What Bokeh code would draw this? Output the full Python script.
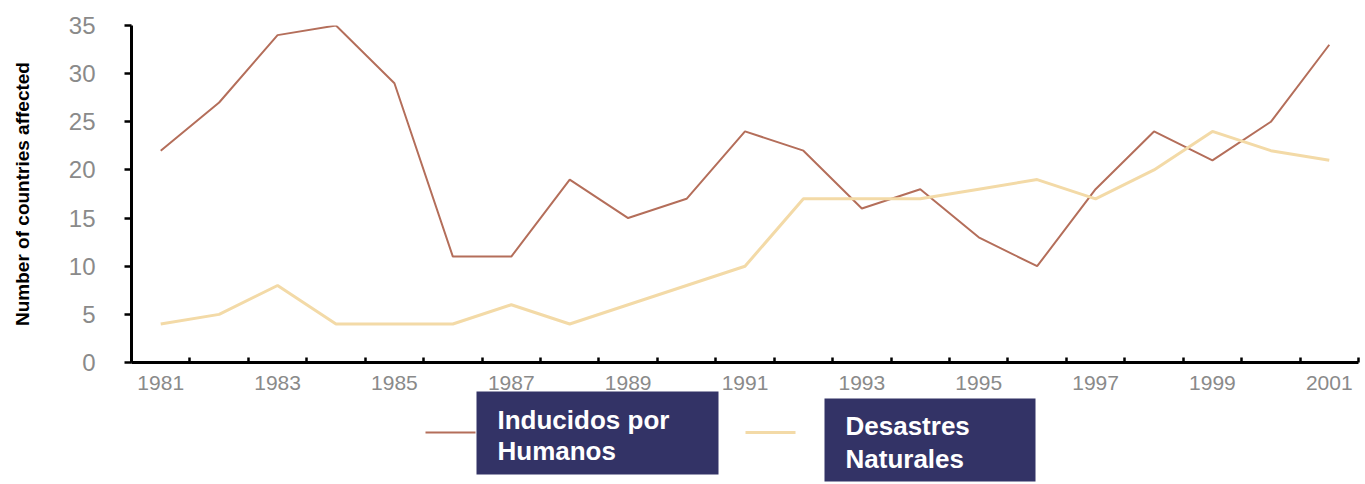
from bokeh.plotting import figure
from bokeh.layouts import column
from bokeh.models import FixedTicker, Range1d
from bokeh.core.properties import value
from bokeh.embed import file_html
from bokeh.resources import INLINE

years = list(range(1981, 2002))
inducidos = [22, 27, 34, 35, 29, 11, 11, 19, 15, 17, 24, 22, 16, 18, 13, 10, 18, 24, 21, 25, 33]
naturales = [4, 5, 8, 4, 4, 4, 6, 4, 6, 8, 10, 17, 17, 17, 18, 19, 17, 20, 24, 22, 21]
x_tick_years = [1981, 1983, 1985, 1987, 1989, 1991, 1993, 1995, 1997, 1999, 2001]
y_ticks = [0, 5, 10, 15, 20, 25, 30, 35]
series_names = ["Inducidos por\nHumanos", "Desastres\nNaturales"]

BROWN = "#B46E5A"
YELLOW = "#F3DAA7"
NAVY = "#333366"

W = 1362
H1 = 400
p = figure(width=W, height=H1, output_backend="svg", toolbar_location=None,
           x_range=Range1d(1980.5, 2001.5), y_range=Range1d(0, 35),
           min_border_left=131, min_border_right=4, min_border_top=25, min_border_bottom=H1 - 362)
p.outline_line_color = None
p.grid.grid_line_color = None

p.line(years, inducidos, line_color=BROWN, line_width=2)
p.line(years, naturales, line_color=YELLOW, line_width=3)

xa = p.xaxis[0]
xa.ticker = FixedTicker(ticks=x_tick_years, minor_ticks=[y - 0.5 for y in years] + [2001.5])
xa.major_tick_line_color = None
xa.major_tick_in = 0
xa.major_tick_out = 0
xa.minor_tick_line_color = "black"
xa.minor_tick_line_width = 2.5
xa.minor_tick_in = 5
xa.minor_tick_out = 0
xa.axis_line_width = 3
xa.major_label_text_font = "Liberation Sans"
xa.major_label_text_font_size = "21px"
xa.major_label_text_color = "#8a8a8a"
xa.major_label_standoff = 13

ya = p.yaxis[0]
ya.ticker = FixedTicker(ticks=y_ticks, minor_ticks=[])
ya.major_tick_line_width = 2.5
ya.major_tick_in = 0
ya.major_tick_out = 7
ya.axis_line_width = 3
ya.major_label_text_font = "Liberation Sans"
ya.major_label_text_font_size = "24px"
ya.major_label_text_color = "#8a8a8a"
ya.major_label_text_baseline = "alphabetic"
ya.major_label_standoff = 29
ya.axis_label = "Number of countries affected"
ya.axis_label_text_font = "Liberation Sans"
ya.axis_label_text_font_style = "bold"
ya.axis_label_text_font_size = "19px"
ya.axis_label_text_color = "black"
ya.axis_label_standoff = 33

# legend strip below the chart; coordinates in page pixels (frame aligned with the chart's frame)
top_px, bot_px = 388, 484
lg = figure(width=W, height=bot_px - top_px, output_backend="svg", toolbar_location=None,
            x_range=Range1d(131, 1358), y_range=Range1d(bot_px, top_px),
            min_border=0, min_border_left=0, min_border_right=0, min_border_top=0, min_border_bottom=0)
lg.axis.visible = False
lg.grid.grid_line_color = None
lg.outline_line_color = None
lg.background_fill_alpha = 0
lg.border_fill_alpha = 0
lg.margin = (top_px - H1, 0, 0, 0)

# sample lines
lg.segment(x0=[425], y0=[432], x1=[475], y1=[432], line_color=BROWN, line_width=2)
lg.segment(x0=[745], y0=[432], x1=[795], y1=[432], line_color=YELLOW, line_width=3)
# boxes
lg.quad(left=[476, 824], right=[718, 1035], top=[391, 398], bottom=[474, 481],
        fill_color=NAVY, line_color=None)
l1 = series_names[0].split("\n")
l2 = series_names[1].split("\n")
lg.text(x=[497, 497, 845, 845], y=[419, 450, 425, 458], text=[l1[0], l1[1], l2[0], l2[1]],
        text_color="white", text_font=value("Liberation Sans"), text_font_style="bold",
        text_font_size="26px", text_baseline="middle", text_align="left")

open("out.html", "w").write(file_html(column(p, lg, spacing=0), INLINE))
